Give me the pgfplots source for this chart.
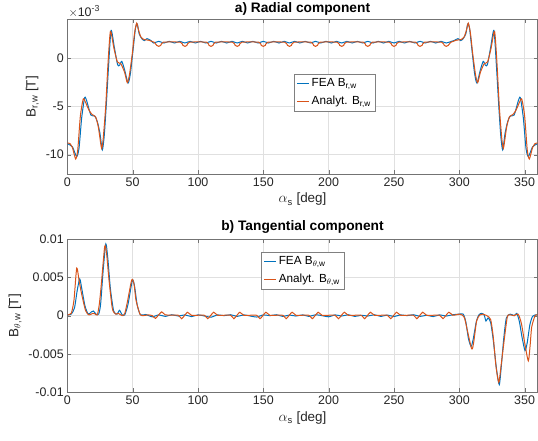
\documentclass[border=0pt]{standalone}
\usepackage{fontspec}
\setmainfont{Liberation Sans}
\usepackage{pgfplots}
\pgfplotsset{compat=1.18}
\definecolor{mblue}{rgb}{0,0.447,0.741}
\definecolor{morange}{rgb}{0.85,0.325,0.098}
\definecolor{axgray}{gray}{0.15}

\pgfplotsset{mstyle/.style={
  width=470.4bp, scale only axis,
  xmin=0, xmax=360, xtick={0,50,...,350},
  grid=major, major grid style={black!12, line width=0.4pt},
  axis line style={black!55, line width=0.5pt},
  tick style={black!55}, tick align=inside, major tick length=4bp,
  ticklabel style={font=\fontsize{12.5}{14}\selectfont, text=axgray},
  /pgf/number format/assume math mode=true,
  label style={font=\fontsize{13.5}{15}\selectfont, text=axgray},
  every axis title shift=0pt,
  title style={font=\bfseries\fontsize{13.8}{15}\selectfont, at={(0.5,1)}, anchor=base},
  xlabel={$\alpha$\textsubscript{s} [deg]},
  legend cell align=left,
  legend style={font=\fontsize{11.8}{14}\selectfont, draw=black!50, inner sep=2.5bp,
    row sep=4bp},
  legend image code/.code={\draw[#1, line width=1.1bp] (0cm,0cm) -- (0.42cm,0cm);},
  every axis plot/.append style={line width=1bp, smooth, tension=0.4, no markers},
}}

\begin{document}
\begin{tikzpicture}
\path[use as bounding box] (0,0) rectangle (538bp,-441bp);

% a) radial component, values in 1e-3 T
\begin{axis}[mstyle, name=topax, at={(67.3bp,-19.3bp)}, anchor=north west, height=154.7bp,
  ymin=-12, ymax=4, ytick={-10,-5,0},
  ylabel={B\textsubscript{r,w} [T]},
  title={a) Radial component}, title style={yshift=6.5bp},
  legend style={at={(0.482,0.646)}, anchor=north west}]
\addplot[draw=mblue] coordinates {
 (0,-8.85) (2,-9.0) (4,-9.2) (7.2,-10.2) (9,-9.3) (11,-6.2) (13.3,-4.1) (15,-4.5)
 (18,-5.9) (21,-6.0) (23,-6.6) (25,-7.8) (26.8,-9.5) (28.3,-8.0) (30,-4.5) (31.6,-0.8)
 (33.5,2.85) (36,1.1) (38.5,-0.7) (40,-0.75) (41.7,-0.35) (44,-1.3) (46.5,-2.6) (48.3,-1.6)
 (50.3,0.8) (52.2,3.1) (53.6,3.5) (55,2.5) (57,2.0) (59,1.8) (61,2.0) (64,1.8)
 (66,1.55) (70,1.72) (74,1.55) (78,1.72) (82,1.55) (86,1.72) (90,1.55) (94,1.72)
 (98,1.55) (102,1.72) (106,1.55) (110,1.72) (114,1.55) (118,1.72) (122,1.55) (126,1.72)
 (130,1.55) (134,1.72) (138,1.55) (142,1.72) (146,1.55) (150,1.72) (154,1.55) (158,1.72)
 (162,1.55) (166,1.72) (170,1.55) (174,1.72) (178,1.55) (182,1.72) (186,1.55) (190,1.72)
 (194,1.55) (198,1.72) (202,1.55) (206,1.72) (210,1.55) (214,1.72) (218,1.55) (222,1.72)
 (226,1.55) (230,1.72) (234,1.55) (238,1.72) (242,1.55) (246,1.72) (250,1.55) (254,1.72)
 (258,1.55) (262,1.72) (266,1.55) (270,1.72) (274,1.55) (278,1.72) (282,1.55) (286,1.72)
 (290,1.55) (294,1.72)
 (296,1.8) (299,2.0) (301,1.8) (303,2.0) (305,2.5) (306.4,3.5) (307.8,3.1) (309.7,0.8)
 (311.7,-1.6) (313.5,-2.6) (316,-1.3) (318.3,-0.35) (320,-0.75) (321.5,-0.7) (324,1.1)
 (326.5,2.85) (328.4,-0.8) (330,-4.5) (331.7,-8.0) (333.2,-9.5) (335,-7.8) (337,-6.6)
 (339,-6.0) (342,-5.9) (345,-4.5) (346.7,-4.1) (349,-6.2) (351,-9.3) (352.8,-10.2)
 (356,-9.2) (358,-9.0) (360,-8.85)
};
\addlegendentry{FEA B\textsubscript{r,w}}
\addplot[draw=morange] coordinates {
 (0,-8.8) (2,-8.85) (4,-9.3) (6.4,-10.45) (8,-9.5) (10,-6.0) (12.2,-4.25) (14,-4.6)
 (16.6,-5.4) (19,-5.85) (21.7,-6.1) (23.7,-7.1) (25,-8.3) (26.3,-9.36) (27.5,-8.3)
 (29.4,-5.0) (31.1,-0.7) (33,2.75) (35.7,1.0) (38.3,-0.4) (41,-0.6) (43.9,-1.5)
 (45.9,-2.55) (47.5,-1.8) (49.7,0.4) (51.5,2.6) (53.1,3.6) (54.5,2.9) (56.2,2.2)
 (58.7,1.9) (62,1.85) (65,1.7)
 (66.5,1.63) (68.5,1.3) (70,1.2) (71.5,1.3) (73.5,1.63)
 (86.5,1.63) (88.5,1.3) (90,1.2) (91.5,1.3) (93.5,1.63)
 (106.5,1.63) (108.5,1.3) (110,1.2) (111.5,1.3) (113.5,1.63)
 (126.5,1.63) (128.5,1.3) (130,1.2) (131.5,1.3) (133.5,1.63)
 (146.5,1.63) (148.5,1.3) (150,1.2) (151.5,1.3) (153.5,1.63)
 (166.5,1.63) (168.5,1.3) (170,1.2) (171.5,1.3) (173.5,1.63)
 (186.5,1.63) (188.5,1.3) (190,1.2) (191.5,1.3) (193.5,1.63)
 (206.5,1.63) (208.5,1.3) (210,1.2) (211.5,1.3) (213.5,1.63)
 (226.5,1.63) (228.5,1.3) (230,1.2) (231.5,1.3) (233.5,1.63)
 (246.5,1.63) (248.5,1.3) (250,1.2) (251.5,1.3) (253.5,1.63)
 (266.5,1.63) (268.5,1.3) (270,1.2) (271.5,1.3) (273.5,1.63)
 (286.5,1.63) (288.5,1.3) (290,1.2) (291.5,1.3) (293.5,1.63)
 (295,1.7) (298,1.85) (301.3,1.9) (303.8,2.2) (305.5,2.9) (306.9,3.6) (308.5,2.6)
 (310.3,0.4) (312.5,-1.8) (314.1,-2.55) (316.1,-1.5) (319,-0.6) (321.7,-0.4) (324.3,1.0)
 (327,2.75) (328.9,-0.7) (330.6,-5.0) (332.5,-8.3) (333.7,-9.36) (335,-8.3) (336.3,-7.1)
 (338.3,-6.1) (341,-5.85) (343.4,-5.4) (346,-4.6) (347.8,-4.25) (350,-6.0) (352,-9.5)
 (353.6,-10.45) (356,-9.3) (358,-8.85) (360,-8.8)
};
\addlegendentry{Analyt. B\textsubscript{r,w}}
\end{axis}
\node[anchor=south west, inner sep=1bp, yshift=1bp, font=\fontsize{12.5}{14}\selectfont, text=axgray]
  at (topax.north west) {$\times$10\textsuperscript{-3}};

% b) tangential component, values in 1e-3 T
\begin{axis}[mstyle, at={(67.3bp,-239bp)}, anchor=north west, height=153.3bp,
  ymin=-10, ymax=10, ytick={-10,-5,0,5,10},
  yticklabels={-0.01,-0.005,0,0.005,0.01},
  ylabel={B\textsubscript{$\theta$,w} [T]},
  title={b) Tangential component}, title style={yshift=9bp},
  legend style={at={(0.412,0.915)}, anchor=north west}]
\addplot[draw=mblue] coordinates {
 (0,0.1) (3,0.2) (5.5,1.0) (7.5,3.2) (9.5,4.8) (11,3.6) (13.5,1.3) (16,0.2)
 (18.5,0.5) (20,0.6) (22,0.2) (24,0.2) (25.5,1.5) (27.5,6.0) (29.5,9.35) (31,7.5)
 (33,3.5) (35.5,0.6) (38,0.2) (40,0.7) (42,0.1) (44,0.1) (46.5,1.5) (49.8,4.6)
 (51.5,3.8) (53.5,1.4) (56,0.1)
 (60,0.15) (65,-0.15) (70,0.1) (75,-0.1) (80,0.12) (85,-0.05) (90,0.1) (95,-0.12)
 (100,0.1) (105,-0.05) (110,-0.2) (115,0.1) (120,0) (125,0.12) (130,-0.1) (135,0.1)
 (140,-0.05) (145,-0.18) (150,0.1) (155,0) (160,0.12) (165,-0.1) (170,0.08) (175,-0.05)
 (180,0.1) (185,-0.1) (190,0.12) (195,0) (200,-0.15) (205,0.1) (210,-0.05) (215,0.12)
 (220,-0.1) (225,0.05) (230,-0.05) (235,0.12) (240,-0.1) (245,0.08) (250,-0.12) (255,0.1)
 (260,0) (265,0.12) (270,-0.1) (275,0.05) (280,-0.12) (285,0.1) (290,-0.05) (295,0.12)
 (300,0.2) (303,0.2) (305,-0.8) (307,-3.0) (309,-4.0) (310.5,-3.2) (313,-0.8) (315,0.1)
 (317,0.3) (319,0.1) (320.4,-0.7) (322,-0.3) (324,-0.9) (326,-3.2) (328.5,-7.0)
 (330.6,-9.0) (332.2,-6.5) (334,-3.0) (336,-0.3) (339,0.2) (342,0.0) (344,0.3)
 (346,-0.8) (348,-2.8) (350.3,-4.56) (352,-3.5) (354,-1.2) (356,-0.1) (358,0.1) (360,0.1)
};
\addlegendentry{FEA B\textsubscript{$\theta$,w}}
\addplot[draw=morange] coordinates {
 (0,0.1) (3,0.3) (5.1,2.0) (7.2,6.2) (9,4.6) (11,2.8) (14,0.65) (16.6,0.1)
 (19.5,0.3) (21,0.25) (23,0.1) (24.5,1.5) (26,4.0) (28.6,9.0) (30,8.2) (32,4.5)
 (34.5,0.9) (37,0.2) (39,0.3) (42,0.0) (44,0.3) (46,1.8) (49.3,4.65) (51,4.2)
 (52.6,2.0) (55.6,0.2) (58,0.0) (62,0.1) (65,0.0) (67.5,-0.35) (72.2,0.5) (75,0.1)
 (85,0.05) (87.5,-0.4) (92,0.45) (95,0.05)
 (105,0.05) (107.5,-0.4) (112,0.45) (115,0.05)
 (125,0.05) (127.5,-0.4) (132,0.45) (135,0.05)
 (145,0.05) (147.5,-0.4) (152,0.45) (155,0.05)
 (165,0.05) (167.5,-0.4) (172,0.45) (175,0.05)
 (185,0.05) (187.5,-0.4) (192,0.45) (195,0.05)
 (205,0.05) (207.5,-0.4) (212,0.45) (215,0.05)
 (225,0.05) (227.5,-0.4) (232,0.45) (235,0.05)
 (245,0.05) (247.5,-0.4) (252,0.45) (255,0.05)
 (265,0.05) (267.5,-0.4) (272,0.45) (275,0.05)
 (285,0.05) (287.5,-0.4) (292,0.45) (295,0.05)
 (300,0.2) (302,0.1) (304,-0.3) (306,-1.8) (309.5,-4.34) (311,-3.5) (313.3,-0.65)
 (315.8,0.1) (318,0.2) (321,0.0) (324,-0.5) (326,-2.8) (328,-6.5) (330.2,-8.7)
 (332,-6.5) (333.7,-4.1) (336.7,-0.2) (339,0.1) (342,0.0) (345,0.2) (347.5,-1.0)
 (350,-3.5) (352.8,-5.9) (354.2,-3.9) (355.4,-1.5) (358,0.0) (360,0.1)
};
\addlegendentry{Analyt. B\textsubscript{$\theta$,w}}
\end{axis}
\end{tikzpicture}
\end{document}
